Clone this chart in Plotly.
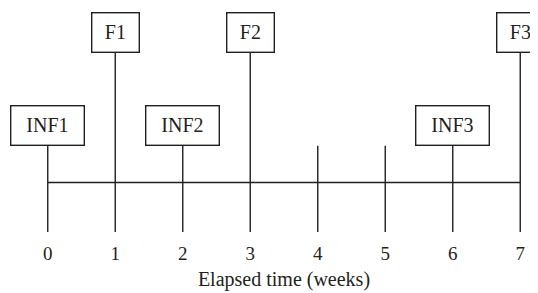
import plotly.graph_objects as go

# Data
weeks = [0, 1, 2, 3, 4, 5, 6, 7]
tick_labels = ["0", "1", "2", "3", "4", "5", "6", "7"]
event_labels = ["INF1", "F1", "INF2", "F2", "", "", "INF3", "F3"]
stem_top = [0.74, 2.62, 0.74, 2.62, 0.74, 0.74, 0.74, 2.62]
stem_bottom = -1.0
axis_title = "Elapsed time (weeks)"

INK = "#231f20"
FONT = "Liberation Serif"
LW = 1.4

fig = go.Figure()

# Baseline (timeline)
fig.add_trace(go.Scatter(
    x=[weeks[0], weeks[-1]], y=[0, 0], mode="lines", cliponaxis=False,
    line=dict(color=INK, width=LW), hoverinfo="skip", showlegend=False))

# Vertical stems
xs, ys = [], []
for w, top in zip(weeks, stem_top):
    xs += [w, w, None]
    ys += [stem_bottom, top, None]
fig.add_trace(go.Scatter(
    x=xs, y=ys, mode="lines", cliponaxis=False,
    line=dict(color=INK, width=LW), hoverinfo="skip", showlegend=False))

# Labelled boxes
for w, top, lab in zip(weeks, stem_top, event_labels):
    if not lab:
        continue
    bw = 72 if lab.startswith("INF") else 46
    fig.add_annotation(
        x=w, y=top, xref="x", yref="y", text=lab, showarrow=False,
        xanchor="center", yanchor="bottom",
        width=bw, height=38, borderpad=0,
        bordercolor=INK, borderwidth=LW, bgcolor="white",
        font=dict(family=FONT, size=20, color=INK))

# The page body has an 8px margin, so the figure is sized to fill the rest.
fig.update_layout(
    width=530, height=285,
    margin=dict(l=33, r=11, t=0, b=60),
    plot_bgcolor="white", paper_bgcolor="white",
    font=dict(family=FONT, color=INK, size=19),
    xaxis=dict(range=[-0.1, 7.1], tickvals=weeks, ticktext=tick_labels,
               showgrid=False, zeroline=False, showline=False, ticks="",
               ticklabelstandoff=7,
               tickfont=dict(family=FONT, size=19, color=INK),
               title=dict(text=axis_title, font=dict(family=FONT, size=20, color=INK), standoff=8)),
    yaxis=dict(range=[-1.02, 3.52], visible=False, showgrid=False, zeroline=False),
)

fig.write_html("out.html")
